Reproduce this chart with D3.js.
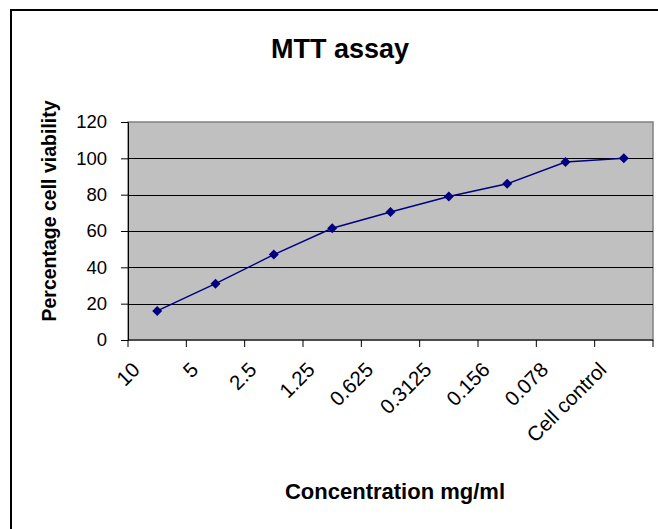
<!DOCTYPE html>
<html>
<head>
<meta charset="utf-8">
<script src="https://cdn.jsdelivr.net/npm/d3@7"></script>
<style>
  body { margin: 0; background: #fff; }
  svg text { font-family: "Liberation Sans", Arial, sans-serif; }
</style>
</head>
<body>
<div id="chart"></div>
<script>
// data
const concentrations = ["10", "5", "2.5", "1.25", "0.625", "0.3125", "0.156", "0.078", "Cell control"];
const viability = [16, 31, 47, 61.5, 70.5, 79, 86, 98, 100];
const yTicks = [0, 20, 40, 60, 80, 100, 120];

const width = 658, height = 529;
const margin = { top: 122, right: 5, bottom: 189, left: 128 };

const svg = d3.select("#chart")
  .append("svg")
  .attr("width", width)
  .attr("height", height);

// outer chart frame (runs off the right and bottom)
svg.append("rect")
  .attr("x", 11)
  .attr("y", 10)
  .attr("width", 700)
  .attr("height", 600)
  .attr("fill", "none")
  .attr("stroke", "#000")
  .attr("stroke-width", 2);

const x = d3.scaleBand()
  .domain(concentrations)
  .range([margin.left, width - margin.right]);

const y = d3.scaleLinear()
  .domain([0, 120])
  .range([height - margin.bottom, margin.top]);

// grey plot area
svg.append("rect")
  .attr("x", margin.left)
  .attr("y", margin.top)
  .attr("width", width - margin.right - margin.left)
  .attr("height", height - margin.bottom - margin.top)
  .attr("fill", "#c0c0c0")
  .attr("stroke", "#808080")
  .attr("stroke-width", 1.5);

// gridlines
svg.append("g")
  .selectAll("line")
  .data(yTicks.slice(1, -1))
  .join("line")
  .attr("x1", margin.left)
  .attr("x2", width - margin.right)
  .attr("y1", (d) => Math.round(y(d)) + 0.5)
  .attr("y2", (d) => Math.round(y(d)) + 0.5)
  .attr("stroke", "#000")
  .attr("stroke-width", 1);

// y axis
const yAxis = svg.append("g")
  .attr("transform", `translate(${margin.left},0)`)
  .call(d3.axisLeft(y).tickValues(yTicks).tickSize(7).tickPadding(14));
yAxis.select(".domain").attr("stroke", "#000");
yAxis.selectAll("text")
  .attr("font-size", 18.5)
  .attr("fill", "#000");

// x axis: ticks sit on the category boundaries
const xAxis = svg.append("g")
  .attr("transform", `translate(0,${height - margin.bottom})`);
xAxis.append("line")
  .attr("x1", margin.left)
  .attr("x2", width - margin.right)
  .attr("stroke", "#000");
const bounds = concentrations.map((c) => x(c)).concat([x.range()[1]]);
xAxis.selectAll(".tick")
  .data(bounds)
  .join("line")
  .attr("class", "tick")
  .attr("x1", (d) => d)
  .attr("x2", (d) => d)
  .attr("y1", 0)
  .attr("y2", 7)
  .attr("stroke", "#000");

xAxis.selectAll(".lbl")
  .data(concentrations)
  .join("text")
  .attr("class", "lbl")
  .attr("text-anchor", "end")
  .attr("font-size", 20.5)
  .attr("transform", (d) => `translate(${x(d) + x.bandwidth() / 2 - 16},${31}) rotate(-45)`)
  .text((d) => d);

// line + diamond markers
const line = d3.line()
  .x((d, i) => x(concentrations[i]) + x.bandwidth() / 2)
  .y((d) => y(d));

svg.append("path")
  .datum(viability)
  .attr("fill", "none")
  .attr("stroke", "#000080")
  .attr("stroke-width", 1.5)
  .attr("d", line);

svg.append("g")
  .selectAll("path")
  .data(viability)
  .join("path")
  .attr("d", d3.symbol(d3.symbolSquare, 50))
  .attr("transform", (d, i) => `translate(${x(concentrations[i]) + x.bandwidth() / 2},${y(d)}) rotate(45)`)
  .attr("fill", "#000080");

// titles
svg.append("text")
  .attr("x", 340)
  .attr("y", 58)
  .attr("text-anchor", "middle")
  .attr("font-size", 27)
  .attr("font-weight", "bold")
  .text("MTT assay");

svg.append("text")
  .attr("x", 395)
  .attr("y", 499)
  .attr("text-anchor", "middle")
  .attr("font-size", 22)
  .attr("font-weight", "bold")
  .text("Concentration mg/ml");

svg.append("text")
  .attr("transform", "translate(56,211) rotate(-90)")
  .attr("text-anchor", "middle")
  .attr("font-size", 19.5)
  .attr("font-weight", "bold")
  .text("Percentage cell viability");
</script>
</body>
</html>
